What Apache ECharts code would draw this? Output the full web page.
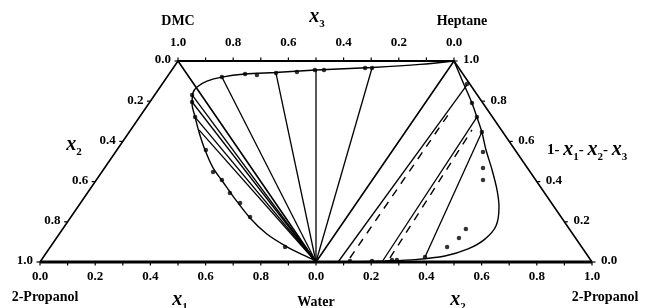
<!DOCTYPE html>
<html><head><meta charset="utf-8">
<script src="https://cdn.jsdelivr.net/npm/echarts@6/dist/echarts.min.js"></script>
<style>html,body{margin:0;padding:0;background:#fff}#c{width:651px;height:308px}</style>
</head><body><div id="c"></div>
<script>
// Unfolded diagram coordinates: u along the bottom (0..2), v = height (0 bottom, 1 top)
const vertexP1 = [0, 0];
const vertexDMC = [0.5, 1];
const vertexWater = [1, 0];
const vertexHeptane = [1.5, 1];
const vertexP2 = [2, 0];

const bottomTickLabels = ['0.0','0.2','0.4','0.6','0.8','0.0','0.2','0.4','0.6','0.8','1.0'];
const topTickLabels = ['1.0','0.8','0.6','0.4','0.2','0.0'];
const leftTickLabels = ['0.0','0.2','0.4','0.6','0.8','1.0'];
const rightTickLabels = ['1.0','0.8','0.6','0.4','0.2','0.0'];

// binodal curve through the left triangle and along the top of the middle triangle
const leftBinodal = [[1.000,0.005],[0.953,0.035],[0.895,0.075],[0.822,0.139],[0.761,0.219],[0.699,0.328],[0.663,0.398],[0.627,0.468],[0.598,0.557],[0.576,0.647],[0.562,0.721],[0.551,0.786],[0.554,0.841],[0.569,0.871],[0.605,0.900],[0.659,0.920],[0.743,0.935],[0.851,0.943],[1.000,0.955],[1.203,0.968],[1.377,0.983],[1.5,1.0]];
// binodal curve in the right triangle
const rightBinodal = [[1.5,1.0],[1.540,0.871],[1.565,0.791],[1.583,0.721],[1.601,0.647],[1.616,0.557],[1.638,0.458],[1.656,0.358],[1.663,0.274],[1.652,0.179],[1.612,0.114],[1.551,0.065],[1.467,0.030],[1.359,0.012],[1.250,0.005],[1.123,0.0]];

const tieLinesSolid = [
  [[1,0],[0.551,0.831]],
  [[1,0],[0.551,0.796]],
  [[1,0],[0.562,0.721]],
  [[1,0],[0.576,0.657]],
  [[1,0],[0.659,0.920]],
  [[1,0],[0.855,0.940]],
  [[1,0],[1.000,0.955]],
  [[1,0],[1.203,0.965]],
  [[1.080,0],[1.547,0.881]],
  [[1.239,0],[1.583,0.721]],
  [[1.395,0.025],[1.601,0.647]]
];
const tieLinesDashed = [
  [[1.123,0.02],[1.478,0.731]],
  [[1.268,0.02],[1.565,0.657]]
];

const expPointsLeft = [[0.551,0.831],[0.551,0.796],[0.562,0.721],[0.601,0.557],[0.627,0.448],[0.659,0.408],[0.688,0.343],[0.725,0.294],[0.761,0.224],[0.888,0.075],
  [0.659,0.920],[0.743,0.935],[0.786,0.930],[0.855,0.940],[0.931,0.945],[0.996,0.955],[1.029,0.955],[1.178,0.965],[1.203,0.965]];
const expPointsRight = [[1.547,0.886],[1.565,0.791],[1.583,0.721],[1.601,0.647],[1.605,0.547],[1.605,0.468],[1.605,0.408],[1.543,0.164],[1.518,0.119],[1.475,0.075],
  [1.123,0.005],[1.203,0.005],[1.275,0.010],[1.293,0.010],[1.395,0.025]];

const FONT = '"Liberation Serif", "DejaVu Serif", serif';

// ticks
const tickData = [];
for (let i = 0; i <= 20; i++) tickData.push([i * 0.1, 0, 0]);
for (let i = 0; i <= 10; i++) tickData.push([0.5 + i * 0.1, 1, 1]);
for (let i = 0; i <= 5; i++) { const t = i * 0.2; tickData.push([0.5 - 0.5 * t, 1 - t, 2]); tickData.push([1.5 + 0.5 * t, 1 - t, 3]); }
const tickDir = [[0, 3.5], [0, -3.5], [-3.5, 0], [3.5, 0]];

function labelSeries(points, texts, dx, dy, align) {
  return {
    type: 'custom', clip: false, silent: true, z: 5,
    data: points.map((p, i) => [p[0], p[1], i]),
    renderItem: function (params, api) {
      const c = api.coord([api.value(0), api.value(1)]);
      return { type: 'text', x: c[0] + dx, y: c[1] + dy,
        style: { text: texts[api.value(2)], fill: '#000', font: 'bold 13px ' + FONT,
          align: align, textAlign: align, verticalAlign: 'middle', textVerticalAlign: 'middle' } };
    }
  };
}

const bottomLabelPts = bottomTickLabels.map((_, i) => [i * 0.2, 0]);
const topLabelPts = topTickLabels.map((_, i) => [0.5 + i * 0.2, 1]);
const leftLabelPts = leftTickLabels.map((_, i) => [0.5 - 0.1 * i, 1 - 0.2 * i]);
const rightLabelPts = rightTickLabels.map((_, i) => [1.5 + 0.1 * i, 1 - 0.2 * i]);

function lineSeries(data, width, type, smooth) {
  return { type: 'line', data: data, symbol: 'none', clip: false, smooth: smooth || false,
    silent: true, animation: false,
    lineStyle: { color: '#000', width: width, type: type || 'solid' } };
}

const series = [];
series.push(lineSeries([vertexP1, vertexDMC, vertexWater, vertexHeptane, vertexP2], 1.6));
series.push(lineSeries([vertexDMC, vertexHeptane], 2));
series.push(lineSeries([vertexP1, vertexP2], 3));
series.push(lineSeries(leftBinodal, 1.4, 'solid', 0.3));
series.push(lineSeries(rightBinodal, 1.4, 'solid', 0.3));
tieLinesSolid.forEach(t => series.push(lineSeries(t, 1.3)));
tieLinesDashed.forEach(t => { const s = lineSeries(t, 1.4, [8, 7]); series.push(s); });
series.push({ type: 'scatter', data: expPointsLeft.concat(expPointsRight), symbolSize: 4.5, clip: false,
  itemStyle: { color: '#000' }, silent: true, z: 4 });
series.push({ type: 'custom', clip: false, silent: true, data: tickData,
  renderItem: function (params, api) {
    const c = api.coord([api.value(0), api.value(1)]);
    const d = tickDir[api.value(2)];
    return { type: 'line', shape: { x1: c[0], y1: c[1], x2: c[0] + d[0], y2: c[1] + d[1] },
      style: { stroke: '#000', lineWidth: 1.2 } };
  } });
series.push(labelSeries(bottomLabelPts, bottomTickLabels, 0, 15, 'center'));
series.push(labelSeries(topLabelPts, topTickLabels, 0, -18, 'center'));
series.push(labelSeries(leftLabelPts, leftTickLabels, -7, -1, 'right'));
series.push(labelSeries(rightLabelPts, rightTickLabels, 9, -1, 'left'));

const richStyle = {
  n: { fontFamily: FONT, fontWeight: 'bold', fontSize: 15, lineHeight: 22, verticalAlign: 'top', padding: [3, 0, 0, 0] },
  i: { fontFamily: FONT, fontStyle: 'italic', fontWeight: 'bold', fontSize: 20, lineHeight: 22, verticalAlign: 'top' },
  s: { fontFamily: FONT, fontWeight: 'bold', fontSize: 11, lineHeight: 11, verticalAlign: 'top', padding: [12, 0, 0, 0] }
};
function title(x, y, text, align, rich) {
  return { type: 'text', x: x, y: y, silent: true,
    style: { text: text, fill: '#000', font: 'bold 14px ' + FONT, rich: rich ? richStyle : undefined,
      align: align, textAlign: align, verticalAlign: 'middle', textVerticalAlign: 'middle' } };
}

const chart = echarts.init(document.getElementById('c'), null, { renderer: 'canvas' });
chart.setOption({
  animation: false,
  backgroundColor: '#fff',
  grid: { left: 40, right: 59, top: 61, bottom: 46 },
  xAxis: { type: 'value', min: 0, max: 2, show: false },
  yAxis: { type: 'value', min: 0, max: 1, show: false },
  series: series,
  graphic: [
    title(178, 21, 'DMC', 'center'),
    title(317, 18, '{i|x}{s|3}', 'center', true),
    title(462, 21, 'Heptane', 'center'),
    title(74, 146, '{i|x}{s|2}', 'center', true),
    title(547, 151, '{n|1- }{i|x}{s|1}{n|- }{i|x}{s|2}{n|- }{i|x}{s|3}', 'left', true),
    title(45, 297, '2-Propanol', 'center'),
    title(180, 301, '{i|x}{s|1}', 'center', true),
    title(316, 302, 'Water', 'center'),
    title(458, 301, '{i|x}{s|2}', 'center', true),
    title(605, 297, '2-Propanol', 'center')
  ]
});
</script></body></html>
